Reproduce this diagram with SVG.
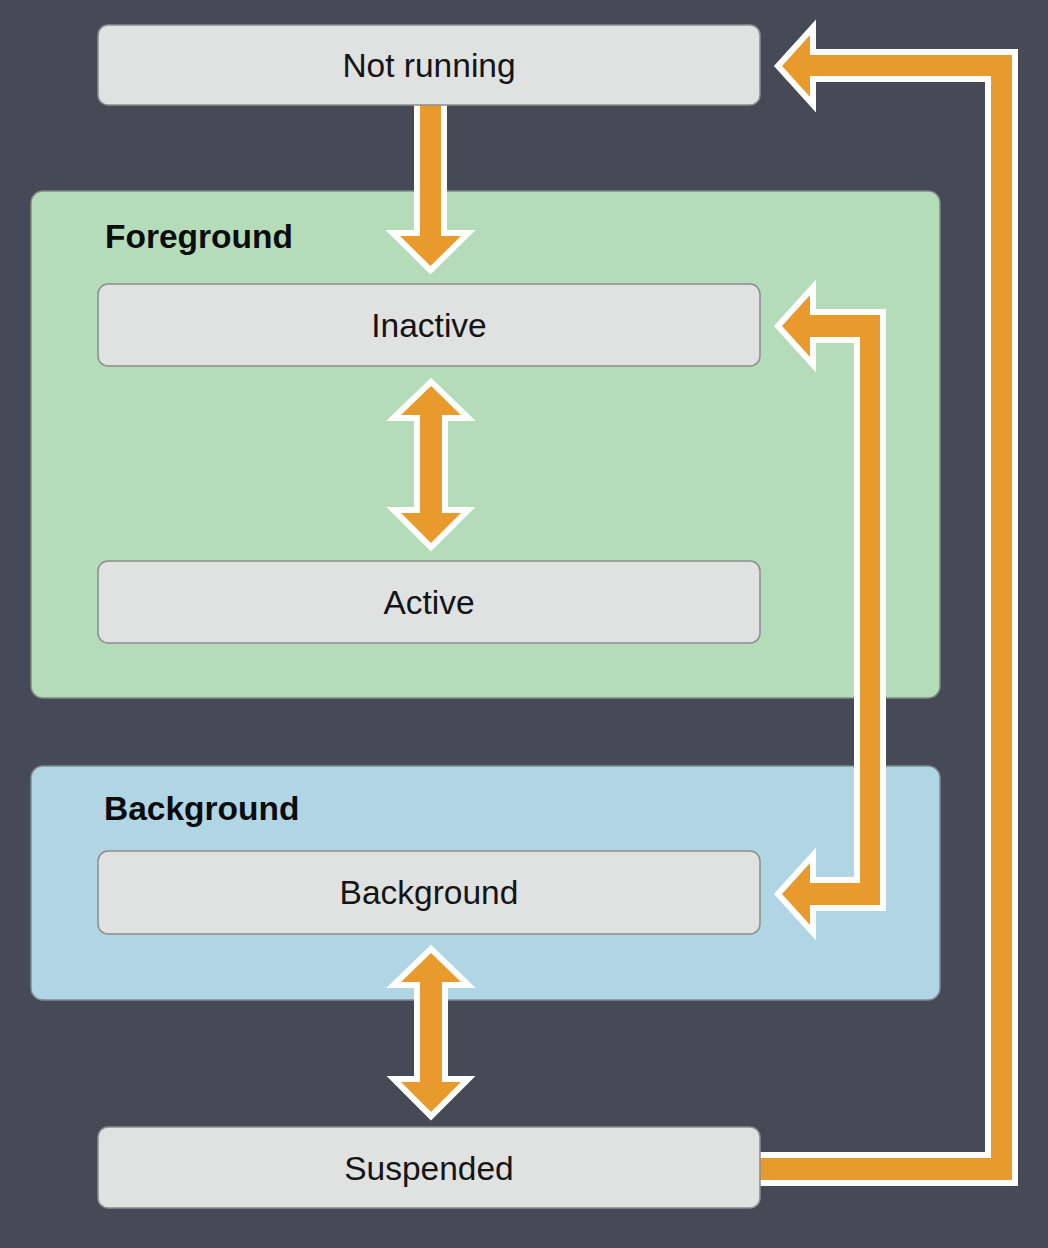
<svg xmlns="http://www.w3.org/2000/svg" width="1048" height="1248" viewBox="0 0 1048 1248">
  <style>
    .node rect { fill: #e0e1e1; stroke: #8c8c8c; stroke-width: 1.5; }
    .node text { font-family: "Liberation Sans", Arial, sans-serif; font-size: 33.5px; fill: #141414; text-anchor: middle; }
    .grp text { font-family: "Liberation Sans", Arial, sans-serif; font-size: 33.5px; font-weight: bold; fill: #0c0c0c; }
    .arrow { fill: #e99a2c; stroke: #ffffff; stroke-width: 12; stroke-linejoin: miter; stroke-miterlimit: 4; paint-order: stroke; }
  </style>
  <rect x="0" y="0" width="1048" height="1248" fill="#464a56"/>

  <g id="foreground-group" class="grp">
    <rect x="31" y="191" width="909" height="507" rx="12" fill="#b4dcb8" stroke="#7f8a86" stroke-width="1.5"/>
    <text x="105" y="248">Foreground</text>
  </g>
  <g id="background-group" class="grp">
    <rect x="31" y="766" width="909" height="234" rx="12" fill="#b0d6e6" stroke="#7f8a90" stroke-width="1.5"/>
    <text x="104" y="820">Background</text>
  </g>

  <g id="connectors">
    <polygon class="arrow" points="420,100 441,100 441,236 461,236 430.5,266 400,236 420,236"/>
    <polygon class="arrow" points="431,386 461,415 442,415 442,513 461,513 431,543 401,513 420,513 420,415 401,415"/>
    <polygon class="arrow" points="431,953 461,982 442,982 442,1082 461,1082 431,1112 401,1082 420,1082 420,982 401,982"/>
    <polygon class="arrow" points="782,326 810,295 810,315 880,315 880,905 810,905 810,925 782,894 810,863 810,883 860,883 860,337 810,337 810,357"/>
    <polygon class="arrow" points="752,1158 991,1158 991,76 810,76 810,97 782,66 810,35 810,55 1012,55 1012,1180 752,1180"/>
  </g>

  <g id="not-running" class="node">
    <rect x="98" y="25" width="662" height="80" rx="10"/>
    <text x="429" y="77">Not running</text>
  </g>
  <g id="inactive" class="node">
    <rect x="98" y="284" width="662" height="82" rx="10"/>
    <text x="429" y="337">Inactive</text>
  </g>
  <g id="active" class="node">
    <rect x="98" y="561" width="662" height="82" rx="10"/>
    <text x="429" y="614">Active</text>
  </g>
  <g id="background" class="node">
    <rect x="98" y="851" width="662" height="83" rx="10"/>
    <text x="429" y="904">Background</text>
  </g>
  <g id="suspended" class="node">
    <rect x="98" y="1127" width="662" height="81" rx="10"/>
    <text x="429" y="1180">Suspended</text>
  </g>
</svg>
